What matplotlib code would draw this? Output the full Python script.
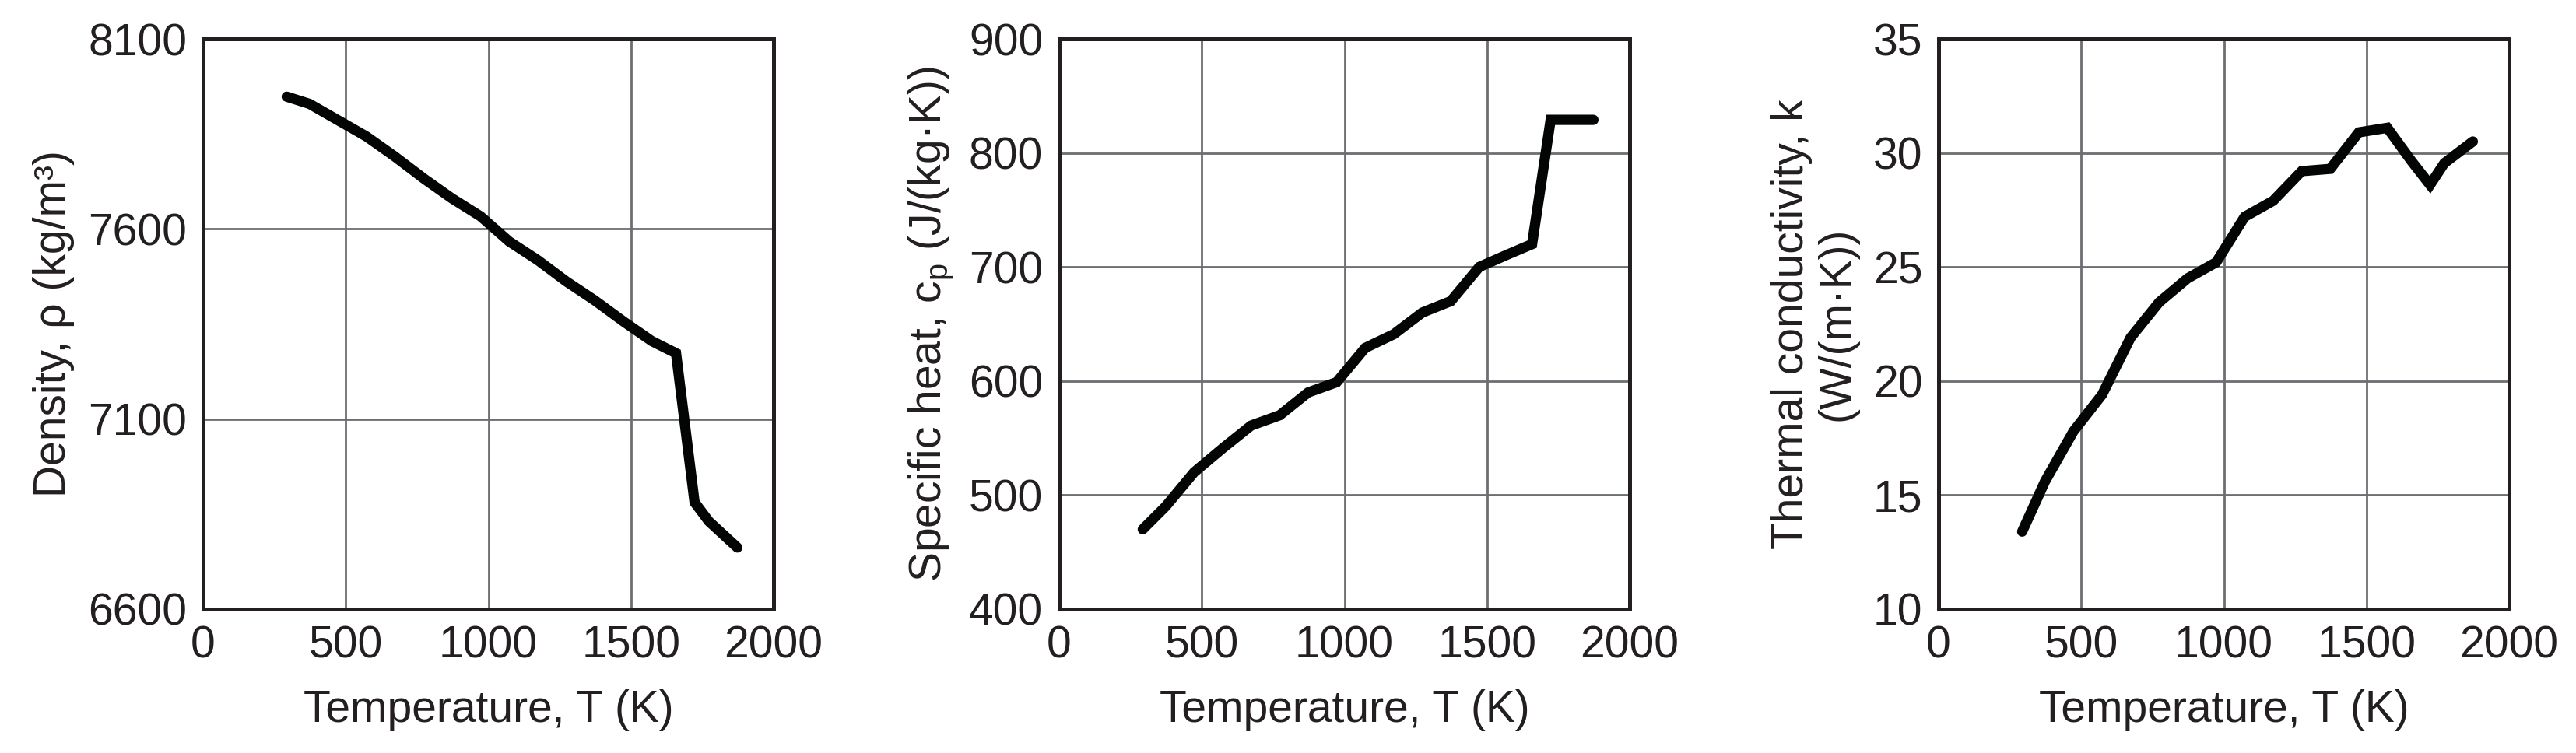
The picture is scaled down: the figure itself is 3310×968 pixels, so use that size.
import matplotlib
matplotlib.use("Agg")
import matplotlib.pyplot as plt

# === Data ===
temperature = [293, 373, 473, 573, 673, 773, 873, 973, 1073, 1173,
               1273, 1373, 1473, 1573, 1658, 1723, 1773, 1873]

density = [7948, 7929, 7886, 7843, 7790, 7733, 7680, 7633, 7567, 7518,
           7462, 7412, 7357, 7305, 7273, 6881, 6831, 6762]

specific_heat = [470, 490, 520, 541, 561, 570, 590, 599, 629, 641,
                 660, 670, 700, 711, 720, 829, 829, 829]

conductivity = [13.4, 15.6, 17.8, 19.4, 21.9, 23.45, 24.5, 25.2, 27.2, 27.9,
                29.2, 29.3, 30.9, 31.1, 29.64, 28.6, 29.55, 30.5]

x_ticks = [0, 500, 1000, 1500, 2000]
density_ticks = [6600, 7100, 7600, 8100]
cp_ticks = [400, 500, 600, 700, 800, 900]
k_ticks = [10, 15, 20, 25, 30, 35]

# === Style ===
plt.rcParams["font.family"] = ["Liberation Sans", "DejaVu Sans"]
plt.rcParams["mathtext.fontset"] = "custom"
plt.rcParams["mathtext.rm"] = "Liberation Sans"
plt.rcParams["mathtext.it"] = "Liberation Sans:italic"

text_color = "#231f20"
font_size = 41

fig = plt.figure(figsize=(33.1, 9.68), dpi=100)

W, H = 3310.0, 968.0
ax_w = 733 / W
ax_h = 733 / H
ax_bottom = (H - 783) / H
lefts = [261 / W, 1361 / W, 2491 / W]

panels = [
    (density, density_ticks, (6600, 8100), "Density, ρ (kg/m³)", 12),
    (specific_heat, cp_ticks, (400, 900),
     r"Specific heat, c$_\mathregular{p}$ (J/(kg·K))", 12),
    (conductivity, k_ticks, (10, 35),
     "Thermal conductivity, k\n(W/(m·K))", 14),
]

for left, (values, yticks, ylim, ylabel, ypad) in zip(lefts, panels):
    ax = fig.add_axes([left, ax_bottom, ax_w, ax_h])

    # Main curve
    ax.plot(temperature, values, color="#030504", linewidth=9.5,
            solid_capstyle="round", solid_joinstyle="miter", zorder=3)

    ax.set_xlim(0, 2000)
    ax.set_ylim(*ylim)
    ax.set_xticks(x_ticks)
    ax.set_yticks(yticks)

    ax.grid(True, color="#6d6e71", linewidth=2.0, zorder=1)
    ax.set_axisbelow(True)

    for spine in ax.spines.values():
        spine.set_linewidth(3.6)
        spine.set_color(text_color)
        spine.set_zorder(4)

    ax.tick_params(length=0, pad=15, labelsize=font_size,
                   labelcolor=text_color)

    ax.set_xlabel("Temperature, T (K)", fontsize=font_size,
                  color=text_color, labelpad=20)
    ax.set_ylabel(ylabel, fontsize=font_size, color=text_color,
                  labelpad=ypad, linespacing=1.1)

fig.savefig("out.png", dpi=100)
